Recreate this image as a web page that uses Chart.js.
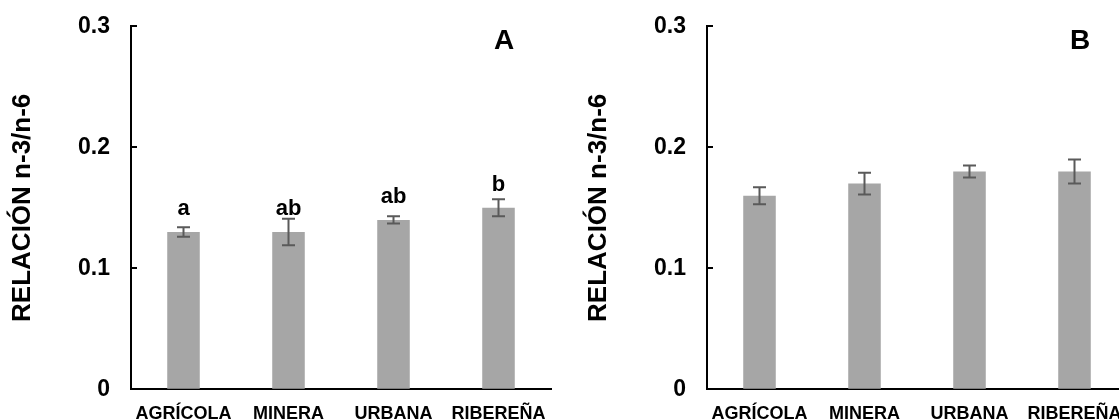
<!DOCTYPE html>
<html>
<head>
<meta charset="utf-8">
<script src="https://cdn.jsdelivr.net/npm/chart.js@4.4.1/dist/chart.umd.min.js"></script>
<style>
  html, body { margin: 0; padding: 0; background: #fff; overflow: hidden; width: 1119px; height: 420px; }
  .panel { position: absolute; top: 0; width: 576px; height: 420px; }
  #wrapA { left: 0; }
  #wrapB { left: 576px; }
</style>
</head>
<body>
<div class="panel" id="wrapA"><canvas id="chartA" width="576" height="420"></canvas></div>
<div class="panel" id="wrapB"><canvas id="chartB" width="576" height="420"></canvas></div>
<script>
// Sampling sites and n-3/n-6 ratio (mean ± error) for the two panels
const categories = ['AGRÍCOLA', 'MINERA', 'URBANA', 'RIBEREÑA'];
const valuesA = [0.13, 0.13, 0.14, 0.15];
const errorsA = [0.004, 0.011, 0.003, 0.007];
const lettersA = ['a', 'ab', 'ab', 'b'];
const valuesB = [0.16, 0.17, 0.18, 0.18];
const errorsB = [0.007, 0.009, 0.005, 0.010];
const yTickLabels = ['0', '0.1', '0.2', '0.3'];
const yTitle = 'RELACIÓN n-3/n-6';

const FONT = "'Liberation Sans', Arial, Helvetica, sans-serif";

// Plot frame inside each 576x420 panel canvas
const FRAME = { left: 131, right: 551, top: 26.3, bottom: 389.3 };

// Error bars, significance letters, inward y ticks and the panel letter
const extras = {
  id: 'extras',
  afterDatasetsDraw(chart, args, opts) {
    const ctx = chart.ctx;
    const yScale = chart.scales.y;
    const area = chart.chartArea;
    const meta = chart.getDatasetMeta(0);
    const data = chart.data.datasets[0].data;
    ctx.save();

    // error bars with caps
    ctx.strokeStyle = '#5a5a5a';
    ctx.lineWidth = 2;
    const cap = 6.5;
    meta.data.forEach((bar, i) => {
      const v = data[i], e = opts.errors[i];
      const yt = yScale.getPixelForValue(v + e);
      const yb = yScale.getPixelForValue(v - e);
      ctx.beginPath();
      ctx.moveTo(bar.x, yt); ctx.lineTo(bar.x, yb);
      ctx.moveTo(bar.x - cap, yt); ctx.lineTo(bar.x + cap, yt);
      ctx.moveTo(bar.x - cap, yb); ctx.lineTo(bar.x + cap, yb);
      ctx.stroke();
    });

    // letters above the bars
    if (opts.letters) {
      ctx.fillStyle = '#000';
      ctx.font = 'bold 22px ' + FONT;
      ctx.textAlign = 'center';
      ctx.textBaseline = 'alphabetic';
      meta.data.forEach((bar, i) => {
        ctx.fillText(opts.letters[i], bar.x, yScale.getPixelForValue(data[i]) - 17);
      });
    }

    // tick marks pointing into the plot
    ctx.strokeStyle = '#000';
    ctx.lineWidth = 2;
    yScale.ticks.forEach(t => {
      if (t.value === 0) return;
      const py = Math.round(yScale.getPixelForValue(t.value));
      ctx.beginPath();
      ctx.moveTo(area.left, py);
      ctx.lineTo(area.left + 6, py);
      ctx.stroke();
    });

    // panel letter
    ctx.fillStyle = '#000';
    ctx.font = 'bold 28px ' + FONT;
    ctx.textAlign = 'center';
    ctx.textBaseline = 'middle';
    ctx.fillText(opts.panel, area.right - 47, area.top + 15);
    ctx.restore();
  }
};

function buildConfig(values, errors, letters, panel, fit) {
  return {
    type: 'bar',
    data: {
      labels: categories,
      datasets: [{
        data: values,
        backgroundColor: '#a6a6a6',
        borderWidth: 0,
        categoryPercentage: 1,
        barPercentage: 0.31
      }]
    },
    options: {
      responsive: false,
      animation: false,
      events: [],
      layout: { padding: { left: 0, right: fit.padRight, top: fit.padTop, bottom: 0 } },
      plugins: {
        legend: { display: false },
        tooltip: { enabled: false },
        extras: { errors: errors, letters: letters, panel: panel }
      },
      scales: {
        x: {
          afterFit(s) { s.height = fit.xHeight; },
          grid: { display: true, color: 'transparent', drawTicks: false, drawOnChartArea: false },
          border: { display: true, color: '#000', width: 2 },
          ticks: {
            color: '#000',
            padding: 14,
            maxRotation: 0,
            autoSkip: false,
            font: { family: FONT, size: 18, weight: 'bold' }
          }
        },
        y: {
          min: 0,
          max: 0.3,
          afterFit(s) { s.width = fit.yWidth; },
          // invisible outer tick length keeps the labels clear of the axis line
          grid: { display: true, color: 'transparent', tickColor: 'transparent', drawTicks: true, tickLength: 21, drawOnChartArea: false },
          border: { display: true, color: '#000', width: 2 },
          ticks: {
            stepSize: 0.1,
            color: '#000',
            padding: 0,
            font: { family: FONT, size: 23, weight: 'bold' },
            callback: (v, i) => yTickLabels[i]
          },
          title: {
            display: true,
            text: yTitle,
            color: '#000',
            padding: { top: 7, bottom: 0 },
            font: { family: FONT, size: 26, weight: 'bold' }
          }
        }
      }
    },
    plugins: [extras]
  };
}

// Build the chart, then rebuild with corrected padding until the plot area sits on FRAME
function makeChart(id, values, errors, letters, panel) {
  const canvas = document.getElementById(id);
  const fit = { padTop: FRAME.top, padRight: 576 - FRAME.right, xHeight: 420 - FRAME.bottom, yWidth: FRAME.left };
  let chart = new Chart(canvas, buildConfig(values, errors, letters, panel, fit));
  for (let k = 0; k < 4; k++) {
    const a = chart.chartArea;
    const dTop = FRAME.top - a.top, dBottom = a.bottom - FRAME.bottom;
    const dLeft = FRAME.left - a.left, dRight = a.right - FRAME.right;
    if (Math.abs(dTop) + Math.abs(dBottom) + Math.abs(dLeft) + Math.abs(dRight) < 0.2) break;
    fit.padTop += dTop;
    fit.xHeight += dBottom;
    fit.yWidth += dLeft;
    fit.padRight += dRight;
    chart.destroy();
    chart = new Chart(canvas, buildConfig(values, errors, letters, panel, fit));
  }
  return chart;
}

makeChart('chartA', valuesA, errorsA, lettersA, 'A');
makeChart('chartB', valuesB, errorsB, null, 'B');
</script>
</body>
</html>
